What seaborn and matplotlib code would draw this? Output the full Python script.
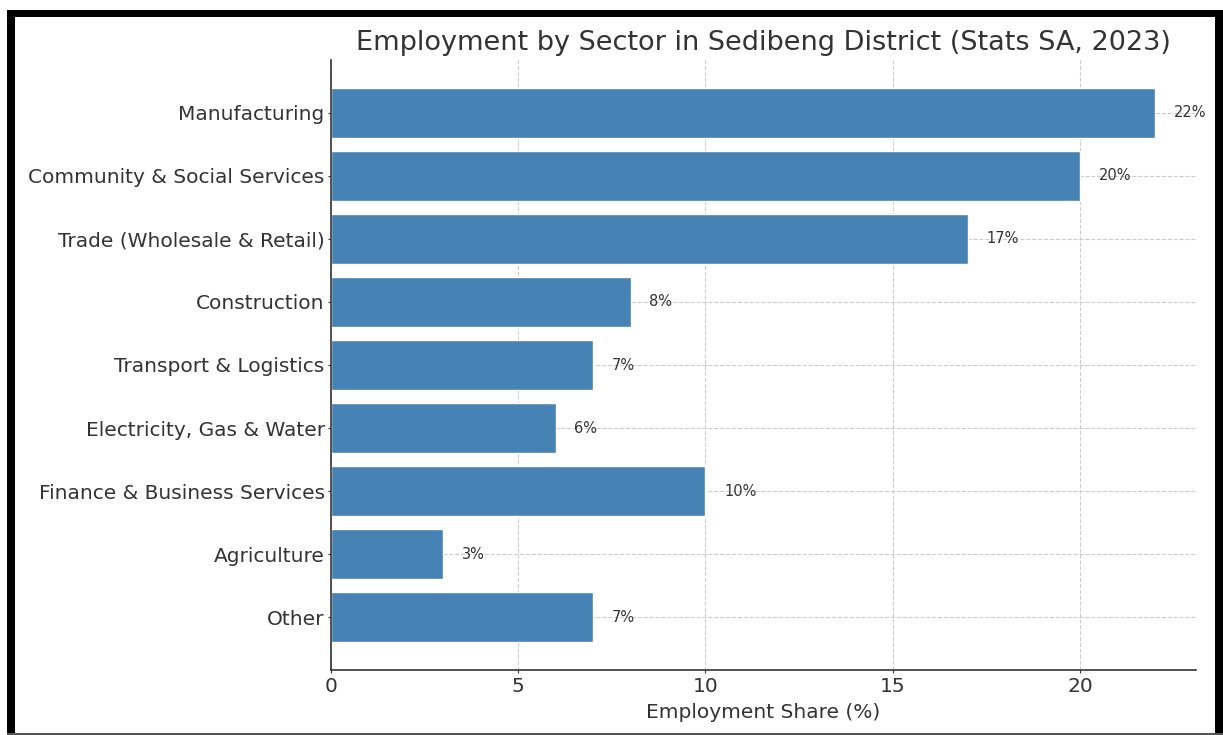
import matplotlib
matplotlib.use("Agg")
import matplotlib.pyplot as plt
import seaborn as sns
import pandas as pd
from matplotlib.patches import Rectangle

sectors = ["Manufacturing", "Community & Social Services", "Trade (Wholesale & Retail)",
           "Construction", "Transport & Logistics", "Electricity, Gas & Water",
           "Finance & Business Services", "Agriculture", "Other"]
shares = [22, 20, 17, 8, 7, 6, 10, 3, 7]

df = pd.DataFrame({"Sector": sectors, "Share": shares})

sns.set_style("ticks")
plt.rcParams["font.family"] = ["DejaVu Sans"]

W, H = 1223, 735
fig = plt.figure(figsize=(W / 100, H / 100), dpi=100)
ax = fig.add_axes([331 / W, 1 - 670 / H, (1196 - 331) / W, (670 - 60) / H])

sns.barplot(data=df, x="Share", y="Sector", orient="h", color="#4682B4",
            saturation=1, width=0.8, ax=ax, zorder=2)
ax.set_xlim(0, 23.1)
ax.set_ylim(8.84, -0.84)

for i, v in enumerate(shares):
    ax.text(v + 0.5, i, f"{v}%", va="center", ha="left", fontsize=10.5, color="#333333", zorder=1)

ax.grid(True, linestyle="--", color="#cccccc", linewidth=0.8, zorder=0)
ax.set_axisbelow(True)
ax.set_title("Employment by Sector in Sedibeng District (Stats SA, 2023)", fontsize=19.5,
             color="#333333", pad=7)
ax.set_xlabel("Employment Share (%)", fontsize=14.5, color="#333333", labelpad=5)
ax.set_ylabel("")
ax.tick_params(axis="both", labelsize=14.5, colors="#333333", length=2.5, pad=2)
ax.tick_params(axis="x", pad=2.5)
ax.set_xticks([0, 5, 10, 15, 20])
sns.despine(ax=ax)
for s in ["left", "bottom"]:
    ax.spines[s].set_color("#333333")
    ax.spines[s].set_linewidth(1.2)

# screenshot-like frame
def px_rect(x0, y0, x1, y1, color):
    fig.patches.append(Rectangle((x0 / W, 1 - y1 / H), (x1 - x0) / W, (y1 - y0) / H,
                                 transform=fig.transFigure, facecolor=color,
                                 edgecolor="none", zorder=10))

px_rect(7, 10, W, 17, "black")
px_rect(7, 10, 15, H, "black")
px_rect(1215, 10, W, H, "black")
px_rect(7, 733, W, H, "#555555")

fig.savefig("out.png", dpi=100)
